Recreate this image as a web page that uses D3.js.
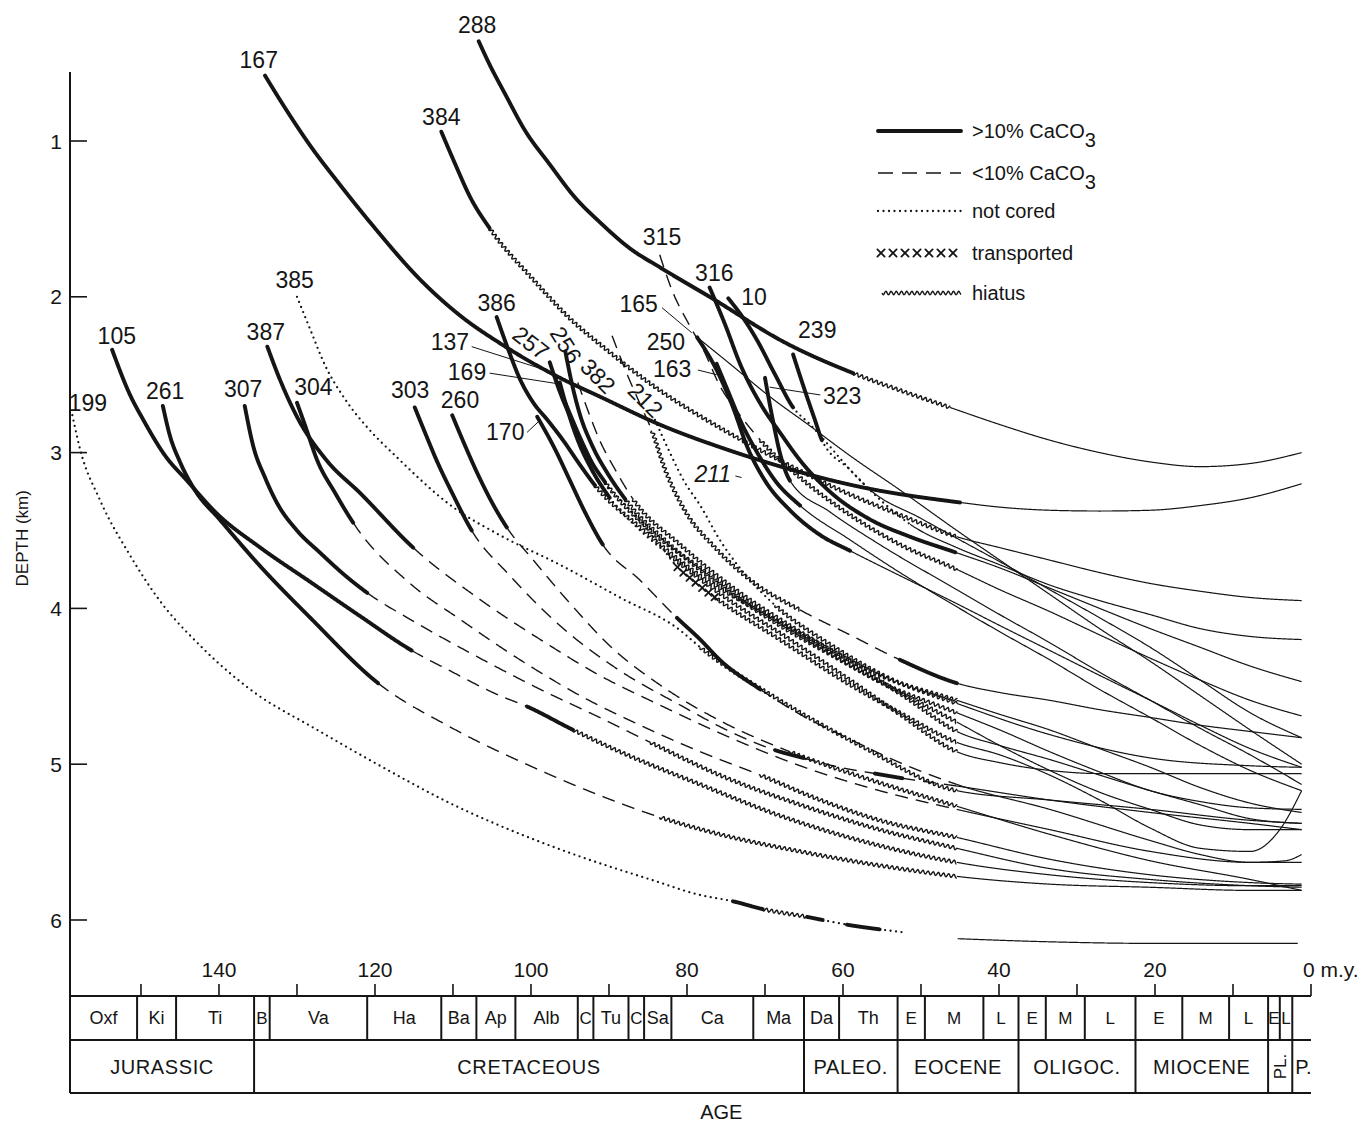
<!DOCTYPE html>
<html>
<head>
<meta charset="utf-8">
<title>Subsidence paths of DSDP sites</title>
<script src="https://cdn.jsdelivr.net/npm/d3@7/dist/d3.min.js"></script>
<style>
  html,body{margin:0;padding:0;background:#fff;}
  svg text{font-family:"Liberation Sans",Arial,sans-serif;fill:#151515;}
  .thick{fill:none;stroke:#151515;stroke-width:3.9;stroke-linecap:round;stroke-linejoin:round}
  .thin{fill:none;stroke:#151515;stroke-width:1.2}
  .dashed{fill:none;stroke:#151515;stroke-width:1.4;stroke-dasharray:13 8}
  .dotted{fill:none;stroke:#151515;stroke-width:2.3;stroke-dasharray:0 5.5;stroke-linecap:round}
  .hiatus{fill:none;stroke:#151515;stroke-width:1.4}
  .xmark{stroke:#151515;stroke-width:1.8;stroke-linecap:round}
  .frame{stroke:#151515;stroke-width:2;fill:none}
  .tick{stroke:#151515;stroke-width:1.6}
  .leader{stroke:#151515;stroke-width:1}
</style>
</head>
<body>
<svg id="chart" width="1365" height="1123" xmlns="http://www.w3.org/2000/svg"></svg>
<script>
// ---- Subsidence paths: [style, [[age m.y., depth km], ...]] ----
// Each segment continues from the last point of the previous one.
const s288 = [
  ["thick", [[106.7,0.36],[105.3,0.51],[103.3,0.70],[100.8,0.93],[97.6,1.15],[94.4,1.36],[91.2,1.52],[87.3,1.69],[83.5,1.81],[77.1,2.0],[67.2,2.30],[58.7,2.49]]],
  ["hiatus", [[52.7,2.60],[46.3,2.71]]],
  ["thin", [[39.9,2.82],[33.5,2.92],[27.1,3.0],[20.6,3.06],[14.2,3.09],[7.8,3.07],[1.2,3.0]]]
];
const s167 = [
  ["thick", [[134.1,0.58],[131.5,0.79],[128.3,1.03],[124.5,1.28],[120.0,1.56],[114.2,1.89],[109.1,2.12],[103.6,2.31],[96.3,2.52],[91.2,2.64],[83.5,2.82],[74.9,2.98],[70.6,3.05],[57.8,3.22],[45.0,3.32]]],
  ["thin", [[39.9,3.35],[33.5,3.37],[27.1,3.375],[20.6,3.37],[14.2,3.34],[7.8,3.29],[1.2,3.2]]]
];
const s384 = [
  ["thick", [[111.5,0.94],[109.7,1.15],[107.8,1.36],[105.3,1.56]]],
  ["hiatus", [[99.7,1.89],[95.0,2.14],[90.3,2.34],[83.5,2.60],[75.8,2.84],[68.1,3.05],[60.4,3.24],[52.7,3.40],[45.4,3.54]]],
  ["thin", [[39.9,3.61],[33.5,3.69],[27.1,3.77],[20.6,3.84],[14.2,3.89],[7.8,3.93],[1.2,3.95]]]
];
const s315 = [
  ["dashed", [[83.5,1.73],[81.9,1.96],[79.6,2.19],[77.9,2.34],[75.8,2.57],[73.2,2.76],[70.6,2.92]]],
  ["hiatus", [[65.5,3.16],[59.1,3.40],[52.7,3.59],[45.4,3.75]]],
  ["thin", [[39.9,3.88],[33.5,4.02],[27.1,4.17],[20.6,4.32],[14.2,4.46],[7.8,4.59],[1.2,4.69]]]
];
const s316 = [
  ["thick", [[77.1,1.94],[75.1,2.18],[73.2,2.43],[70.3,2.71],[68.1,2.87],[65.5,3.05],[61.7,3.25],[56.5,3.43],[51.4,3.54],[45.6,3.64]]],
  ["thin", [[39.9,3.74],[33.5,3.87],[27.1,4.0],[20.6,4.13],[14.2,4.25],[7.8,4.37],[1.2,4.47]]]
];
const s10 = [
  ["thick", [[74.7,2.01],[72.6,2.15],[71.0,2.28],[68.7,2.50],[66.4,2.71]]],
  ["dotted", [[64.2,2.82],[61.7,2.96],[59.1,3.11],[56.5,3.24]]],
  ["thin", [[50.1,3.42],[45.4,3.55],[39.9,3.70],[33.5,3.88],[27.1,4.06],[20.6,4.25],[14.2,4.46],[7.8,4.67],[1.2,4.83]]]
];
const s239 = [
  ["thick", [[66.4,2.37],[64.9,2.60],[63.6,2.79],[62.7,2.92]]],
  ["dotted", [[59.1,3.11],[55.3,3.30],[51.4,3.46]]],
  ["thin", [[45.4,3.61],[39.9,3.72],[33.5,3.85],[27.1,3.95],[20.6,4.04],[14.2,4.13],[7.8,4.18],[1.2,4.20]]]
];
const s165 = [
  ["thin", [[78.7,2.26],[74.5,2.43],[69.4,2.64],[64.2,2.83],[59.1,3.02],[52.7,3.24],[45.4,3.50],[39.9,3.69],[33.5,3.91],[27.1,4.13],[20.6,4.34],[14.2,4.56],[7.8,4.78],[1.2,5.0]]]
];
const s250 = [
  ["thick", [[78.7,2.26],[76.2,2.47],[74.1,2.71],[72.3,2.96],[70.0,3.18],[66.8,3.37],[62.9,3.53],[59.1,3.63]]],
  ["thin", [[52.7,3.79],[45.4,3.97],[39.9,4.11],[33.5,4.27],[27.1,4.43],[20.6,4.59],[14.2,4.75],[7.8,4.90],[1.2,5.02]]]
];
const s163 = [
  ["thick", [[76.2,2.43],[74.7,2.61],[73.2,2.79],[71.0,3.0],[68.7,3.18],[65.5,3.34]]],
  ["thin", [[59.1,3.56],[52.7,3.77],[45.4,3.99],[39.9,4.15],[33.5,4.33],[27.1,4.52],[20.6,4.70],[14.2,4.88],[7.8,5.04],[1.2,5.17]]]
];
const s323 = [
  ["thick", [[70.0,2.52],[69.5,2.66],[69.0,2.79],[68.1,3.0],[66.8,3.18]]],
  ["thin", [[61.7,3.38],[55.3,3.59],[45.4,3.88],[39.9,4.04],[33.5,4.22],[27.1,4.41],[20.6,4.59],[14.2,4.77],[7.8,4.94],[1.2,5.13]]]
];
const s386 = [
  ["thick", [[104.4,2.13],[102.9,2.34],[101.4,2.53],[99.7,2.68],[97.9,2.79],[95.9,2.92],[93.7,3.08],[91.8,3.21]]],
  ["hiatus", [[86.0,3.48],[78.3,3.79],[70.6,4.02],[62.9,4.23],[55.3,4.43],[45.4,4.59]]],
  ["thin", [[39.9,4.68],[33.5,4.78],[27.1,4.90],[20.6,5.02],[14.2,5.15],[7.8,5.25],[1.2,5.31]]]
];
const s257 = [
  ["thick", [[97.6,2.42],[96.3,2.61],[94.7,2.80],[92.7,3.02],[90.5,3.19]]],
  ["hiatus", [[84.7,3.50],[78.3,3.74],[70.6,4.01],[62.9,4.25],[55.3,4.47],[45.4,4.67]]],
  ["thin", [[39.9,4.78],[33.5,4.92],[27.1,5.05],[20.6,5.17],[14.2,5.24],[7.8,5.28],[1.2,5.29]]]
];
const s256 = [
  ["thick", [[95.6,2.35],[94.7,2.57],[93.7,2.76],[92.2,2.95],[90.1,3.14],[87.9,3.30]]],
  ["hiatus", [[82.2,3.59],[75.8,3.85],[68.1,4.11],[60.4,4.33],[52.7,4.54],[45.4,4.73]]],
  ["thin", [[39.9,4.88],[33.5,5.04],[27.1,5.18],[20.6,5.29],[14.2,5.39],[7.8,5.42],[1.2,5.42]]]
];
const s382 = [
  ["dashed", [[94.0,2.55],[92.7,2.73],[91.2,2.92],[89.2,3.11],[86.9,3.30]]],
  ["hiatus", [[80.9,3.59],[73.2,3.90],[65.5,4.15],[57.8,4.38],[51.4,4.59],[45.4,4.79]]],
  ["thin", [[39.9,4.88],[33.5,4.97],[27.1,5.07],[20.6,5.17],[14.2,5.26],[7.8,5.35],[1.2,5.38]]]
];
const s137 = [
  ["thin", [[96.9,2.50],[95.0,2.73],[93.1,2.95],[91.2,3.14]]],
  ["dotted", [[87.3,3.37],[83.5,3.59],[81.5,3.72]]],
  ["transported", [[79.0,3.83],[76.4,3.93]]],
  ["hiatus", [[68.1,4.20],[59.1,4.49],[52.7,4.67],[45.4,4.86]]],
  ["thin", [[39.9,4.94],[33.5,5.07],[27.1,5.23],[20.6,5.41],[14.2,5.54],[7.8,5.56],[4.0,5.42],[1.2,5.17]]]
];
const s169 = [
  ["thick", [[96.3,2.55],[95.3,2.73],[94.0,2.92],[92.2,3.11],[89.9,3.29]]],
  ["dotted", [[86.0,3.50],[82.2,3.66]]],
  ["hiatus", [[74.5,3.95],[66.8,4.20],[59.1,4.46],[52.7,4.68],[45.4,4.92]]],
  ["thin", [[39.9,4.99],[33.5,5.04],[27.1,5.06],[20.6,5.06],[14.2,5.06],[7.8,5.06],[1.2,5.06]]]
];
const s212 = [
  ["dashed", [[89.6,2.25],[87.9,2.47],[86.0,2.69],[84.5,2.86]]],
  ["hiatus", [[82.8,3.11],[80.3,3.37],[76.4,3.61],[71.3,3.84],[65.5,4.01]]],
  ["dashed", [[59.1,4.17],[52.7,4.33]]],
  ["thick", [[45.4,4.48]]],
  ["thin", [[39.9,4.54],[33.5,4.59],[27.1,4.65],[20.6,4.70],[14.2,4.75],[7.8,4.79],[1.2,4.83]]]
];
const s211 = [
  ["dotted", [[84.1,2.79],[82.2,3.0],[80.3,3.19],[78.3,3.34],[75.8,3.56],[71.9,3.82],[68.7,3.98]]],
  ["hiatus", [[61.7,4.23],[54.0,4.45],[45.4,4.61]]],
  ["thin", [[33.5,4.81],[20.6,4.96],[7.8,5.01],[1.2,5.02]]]
];
const s170 = [
  ["thick", [[99.2,2.77],[96.9,2.98],[95.0,3.18],[93.1,3.38],[90.8,3.59]]],
  ["dashed", [[86.0,3.82],[81.3,4.06]]],
  ["thick", [[78.3,4.20],[75.8,4.33],[70.6,4.52]]],
  ["dashed", [[65.5,4.68],[59.1,4.84],[52.7,4.99],[45.4,5.13]]],
  ["thin", [[33.5,5.29],[20.6,5.49],[14.2,5.58],[7.8,5.63],[3.3,5.62],[1.2,5.58]]]
];
const s385 = [
  ["dotted", [[130.0,2.0],[128.3,2.21],[126.4,2.44],[123.8,2.66],[120.6,2.86],[117.4,3.02],[110.0,3.35],[104.0,3.53],[96.3,3.72],[88.6,3.93],[80.9,4.14],[78.3,4.25]]],
  ["hiatus", [[68.1,4.59],[57.8,4.88],[45.4,5.17]]],
  ["thin", [[33.5,5.23],[20.6,5.29],[7.8,5.36],[1.2,5.38]]]
];
const s387 = [
  ["thick", [[133.8,2.32],[132.2,2.53],[130.0,2.77],[126.2,3.05],[121.9,3.26],[115.1,3.61]]],
  ["dashed", [[106.9,3.93],[98.8,4.20],[91.2,4.43],[83.5,4.62],[75.8,4.80],[65.5,5.01],[55.3,5.17],[45.4,5.29]]],
  ["thin", [[33.5,5.42],[20.6,5.56],[7.8,5.63],[1.2,5.63]]]
];
const s304 = [
  ["thick", [[130.0,2.68],[129.0,2.82],[127.4,3.05],[125.1,3.26],[122.8,3.45]]],
  ["dashed", [[115.5,3.84],[109.1,4.07],[101.4,4.33],[93.7,4.56],[86.0,4.75],[78.3,4.92],[70.6,5.07]]],
  ["hiatus", [[62.9,5.23],[55.3,5.36],[45.4,5.47]]],
  ["thin", [[33.5,5.61],[20.6,5.71],[7.8,5.76],[1.2,5.77]]]
];
const s303 = [
  ["thick", [[114.9,2.71],[113.6,2.87],[112.1,3.05],[110.0,3.27],[107.6,3.50]]],
  ["dashed", [[102.7,3.79],[96.3,4.11],[88.6,4.40],[80.9,4.62],[74.1,4.80],[68.7,4.91]]],
  ["thick", [[65.1,4.96]]],
  ["dashed", [[60.4,5.02],[55.9,5.06]]],
  ["thick", [[52.4,5.09]]],
  ["dashed", [[45.4,5.14]]],
  ["thin", [[33.5,5.23],[20.6,5.31],[7.8,5.38],[1.2,5.42]]]
];
const s260 = [
  ["thick", [[110.1,2.76],[108.5,2.95],[106.9,3.13],[105.0,3.32],[103.1,3.48]]],
  ["dashed", [[99.7,3.69],[94.6,3.99],[89.9,4.24],[83.5,4.49],[75.8,4.72],[66.8,4.92]]],
  ["hiatus", [[56.5,5.10],[45.4,5.27]]],
  ["thin", [[33.5,5.45],[20.6,5.62],[7.8,5.74],[1.2,5.81]]]
];
const s307 = [
  ["thick", [[136.7,2.70],[135.6,2.96],[134.1,3.16],[132.6,3.32],[130.0,3.50],[127.1,3.64],[123.8,3.79],[121.0,3.90]]],
  ["dashed", [[115.5,4.07],[106.9,4.31],[98.8,4.52],[91.2,4.70],[84.7,4.86]]],
  ["hiatus", [[75.8,5.07],[65.5,5.26],[55.3,5.42],[45.4,5.54]]],
  ["thin", [[33.5,5.67],[20.6,5.74],[7.8,5.78],[1.2,5.79]]]
];
const s261 = [
  ["thick", [[147.2,2.70],[146.3,2.89],[145.0,3.06],[143.1,3.24],[139.9,3.43],[134.7,3.73],[128.3,4.06],[119.6,4.48]]],
  ["dashed", [[110.4,4.76],[99.7,5.02],[91.2,5.20],[83.5,5.34]]],
  ["hiatus", [[75.8,5.45],[65.5,5.56],[55.3,5.65],[45.4,5.72]]],
  ["thin", [[33.5,5.77],[20.6,5.79],[7.8,5.81],[1.2,5.81]]]
];
const s105 = [
  ["thick", [[153.7,2.34],[151.4,2.63],[149.7,2.79],[146.9,3.02],[144.1,3.18],[140.3,3.39],[134.7,3.61],[128.3,3.83],[121.9,4.05],[115.3,4.27]]],
  ["dashed", [[110.4,4.40],[104.0,4.56],[100.5,4.63]]],
  ["thick", [[94.6,4.78]]],
  ["hiatus", [[88.6,4.92],[78.3,5.13],[68.1,5.33],[57.8,5.49],[45.4,5.63]]],
  ["thin", [[33.5,5.71],[20.6,5.76],[7.8,5.78],[1.2,5.78]]]
];
const s199 = [
  ["dotted", [[158.8,2.76],[157.8,2.98],[155.3,3.30],[151.4,3.66],[147.6,3.95],[142.4,4.24],[136.0,4.52],[127.4,4.78],[119.0,5.02],[110.4,5.25],[101.8,5.44],[93.3,5.60],[84.7,5.74],[78.3,5.84],[74.1,5.88]]],
  ["thick", [[70.3,5.93]]],
  ["hiatus", [[64.6,5.98]]],
  ["thick", [[62.6,6.0]]],
  ["dotted", [[59.5,6.03]]],
  ["thick", [[55.3,6.06]]],
  ["dotted", [[52.1,6.08]]]
];
const s199young = [
  ["thin", [[45.3,6.12],[33.5,6.14],[20.6,6.15],[7.8,6.15],[1.7,6.15]]]
];

const sitePaths = [s288,s167,s384,s315,s316,s10,s239,s165,s250,s163,s323,s386,s257,s256,s382,
                   s137,s169,s212,s211,s170,s385,s387,s304,s303,s260,s307,s261,s105,s199,s199young];

// ---- Site labels ----
const labelText  = ["288","167","384","315","316","10","239","165","250","163","323","386","137","169","257","256","382","212","211","170","385","387","304","303","260","307","261","105","199"];
const labelAge   = [106.9,134.9,111.5,83.2,76.5,71.4,63.3,86.2,82.7,81.9,60.1,104.4,110.4,108.2,100.0,95.5,91.4,85.3,76.7,103.3,130.3,134.0,127.9,115.5,109.1,136.9,146.9,153.1,156.8];
const labelDepth = [0.255,0.48,0.846,1.616,1.847,2.0,2.213,2.046,2.29,2.463,2.637,2.04,2.29,2.483,2.296,2.309,2.508,2.662,3.137,2.868,1.892,2.226,2.579,2.598,2.662,2.592,2.605,2.252,2.682];
const labelTilt  = [0,0,0,0,0,0,0,0,0,0,0,0,0,0,38,58,45,45,0,0,0,0,0,0,0,0,0,0,0];

// leader lines joining labels to their curves
const leaderFrom = [[83.2,2.07],[78.6,2.47],[62.9,2.63],[107.6,2.32],[105.3,2.49],[100.5,2.87],[73.8,3.15]];
const leaderTo   = [[79.4,2.23],[76.2,2.50],[69.4,2.58],[96.9,2.49],[96.3,2.56],[98.8,2.79],[73.0,3.16]];

// ---- Axes ----
const depthTicks = [1,2,3,4,5,6];
const ageTicks = [150,140,130,120,110,100,90,80,70,60,50,40,30,20,10,0];
const ageTickLabels = [140,120,100,80,60,40,20];

// ---- Time scale ----
const stageNames  = ["Oxf","Ki","Ti","B","Va","Ha","Ba","Ap","Alb","C","Tu","C","Sa","Ca","Ma","Da","Th","E","M","L","E","M","L","E","M","L","E","L",""];
const stageBounds = [159.1,150.5,145.5,135.5,133.5,121,111.5,107,102,94,92,87.5,85.5,82,71.5,65,60.5,53,49.5,42,37.5,34,29,22.5,16.5,10.5,5.5,4.0,2.4,0];
const periodNames  = ["JURASSIC","CRETACEOUS","PALEO.","EOCENE","OLIGOC.","MIOCENE","PL.","P."];
const periodBounds = [159.1,135.5,65,53,37.5,22.5,5.5,2.4,0];

// ---- Legend ----
const legendStyles = ["thick","dashed","dotted","transported","hiatus"];
const legendLabels = [">10% CaCO|3","<10% CaCO|3","not cored","transported","hiatus"];

// ================= drawing =================
const svg = d3.select("#chart");
svg.append("rect").attr("width",1365).attr("height",1123).attr("fill","#fff");

const x = d3.scaleLinear().domain([159.1, 0]).range([70, 1311]);
const y = d3.scaleLinear().domain([1, 6]).range([141, 920]);

const plotTop = 72, stageTop = 996, stageMid = 1040, stageBottom = 1093;
const x0 = x(stageBounds[0]), x1 = x(0);

// dense sampling of a monotone curve through pixel points, remembering where each knot lands
function densify(pts){
  const out = []; const knots = []; let cx = 0, cy = 0;
  const ctx = {
    moveTo(px,py){ out.push([px,py]); knots.push(out.length-1); cx=px; cy=py; },
    lineTo(px,py){
      const n = Math.max(1, Math.ceil(Math.hypot(px-cx,py-cy)/0.5));
      for(let i=1;i<=n;i++){ const t=i/n; out.push([cx+(px-cx)*t, cy+(py-cy)*t]); }
      knots.push(out.length-1); cx=px; cy=py;
    },
    bezierCurveTo(ax,ay,bx,by,px,py){
      const approx = Math.hypot(ax-cx,ay-cy)+Math.hypot(bx-ax,by-ay)+Math.hypot(px-bx,py-by);
      const n = Math.max(2, Math.ceil(approx/0.5));
      for(let i=1;i<=n;i++){
        const t=i/n, u=1-t;
        out.push([u*u*u*cx+3*u*u*t*ax+3*u*t*t*bx+t*t*t*px,
                  u*u*u*cy+3*u*u*t*ay+3*u*t*t*by+t*t*t*py]);
      }
      knots.push(out.length-1); cx=px; cy=py;
    },
    closePath(){}
  };
  d3.line().curve(d3.curveMonotoneX).context(ctx)(pts);
  let s = 0; out[0][2] = 0;
  for(let i=1;i<out.length;i++){ s += Math.hypot(out[i][0]-out[i-1][0], out[i][1]-out[i-1][1]); out[i][2] = s; }
  return {samples: out, knots};
}

// wavy line used for hiatus segments
function wavy(seg, amp, wl){
  const s0 = seg[0][2];
  return seg.map((p,i) => {
    const a = seg[Math.max(0,i-2)], b = seg[Math.min(seg.length-1,i+2)];
    let tx = b[0]-a[0], ty = b[1]-a[1]; const n = Math.hypot(tx,ty) || 1; tx/=n; ty/=n;
    const o = amp*Math.sin(2*Math.PI*(p[2]-s0)/wl);
    return [p[0]-ty*o, p[1]+tx*o];
  });
}

function xMarks(g, seg, step, r){
  const s0 = seg[0][2], L = seg[seg.length-1][2]-s0;
  let target = 3, j = 0;
  while(target <= L){
    while(j < seg.length-1 && seg[j][2]-s0 < target) j++;
    const [px,py] = seg[j];
    g.append("line").attr("class","xmark").attr("x1",px-r).attr("y1",py-r).attr("x2",px+r).attr("y2",py+r);
    g.append("line").attr("class","xmark").attr("x1",px-r).attr("y1",py+r).attr("x2",px+r).attr("y2",py-r);
    target += step;
  }
}

const lineGen = d3.line();
function drawSeg(g, style, seg){
  if(style === "hiatus"){
    g.append("path").attr("class","hiatus").attr("d", lineGen(wavy(seg,1.7,5.2)));
  } else if(style === "transported"){
    xMarks(g, seg, 8, 3.2);
  } else {
    g.append("path").attr("class",style).attr("d", lineGen(seg.map(p=>[p[0],p[1]])));
  }
}

const styleOrder = ["thin","dotted","dashed","hiatus","transported","thick"];
const gCurves = svg.append("g");
const layers = {};
styleOrder.forEach(s => { layers[s] = gCurves.append("g"); });

sitePaths.forEach(site => {
  const pts = []; const parts = [];
  site.forEach(([style, p]) => {
    const start = pts.length ? pts.length-1 : 0;
    p.forEach(q => pts.push([x(q[0]), y(q[1])]));
    parts.push([style, start, pts.length-1]);
  });
  const {samples, knots} = densify(pts);
  parts.forEach(([style,a,b]) => {
    const seg = samples.slice(knots[a], knots[b]+1);
    if(seg.length > 1) drawSeg(layers[style], style, seg);
  });
});

// leaders
const gLead = svg.append("g");
leaderFrom.forEach((f,i) => {
  const t = leaderTo[i];
  gLead.append("line").attr("class","leader")
    .attr("x1",x(f[0])).attr("y1",y(f[1])).attr("x2",x(t[0])).attr("y2",y(t[1]));
});

// site labels
const gLab = svg.append("g");
labelText.forEach((t,i) => {
  const px = x(labelAge[i]), py = y(labelDepth[i]);
  gLab.append("text").attr("x",px).attr("y",py).attr("dy","0.36em")
    .attr("text-anchor","middle").attr("font-size",23)
    .attr("font-style", t === "211" ? "italic" : "normal")
    .attr("transform", labelTilt[i] ? `rotate(${labelTilt[i]},${px},${py})` : null)
    .text(t);
});

// ---- depth axis ----
const gAx = svg.append("g");
gAx.append("line").attr("class","frame").attr("stroke-width",2.6)
  .attr("x1",x0).attr("x2",x0).attr("y1",plotTop).attr("y2",stageBottom);
depthTicks.forEach(d => {
  gAx.append("line").attr("class","tick").attr("x1",x0).attr("x2",x0+17).attr("y1",y(d)).attr("y2",y(d));
  gAx.append("text").attr("x",x0-8).attr("y",y(d)).attr("dy","0.36em").attr("text-anchor","end")
    .attr("font-size",21).text(d);
});
gAx.append("text").attr("transform",`translate(22,${y(3.55)}) rotate(-90)`)
  .attr("text-anchor","middle").attr("dy","0.36em").attr("font-size",17).text("DEPTH (km)");

// ---- age axis ----
ageTicks.forEach(a => {
  gAx.append("line").attr("class","tick").attr("x1",x(a)).attr("x2",x(a)).attr("y1",stageTop-12).attr("y2",stageTop);
});
ageTickLabels.forEach(a => {
  gAx.append("text").attr("x",x(a)).attr("y",stageTop-19).attr("text-anchor","middle").attr("font-size",21).text(a);
});
gAx.append("text").attr("x",x(0)-8).attr("y",stageTop-19).attr("font-size",21).text("0 m.y.");

// ---- time-scale boxes ----
[stageTop, stageMid, stageBottom].forEach(yy => {
  gAx.append("line").attr("class","frame").attr("x1",x0).attr("x2",x1).attr("y1",yy).attr("y2",yy);
});
stageBounds.slice(1,-1).forEach(a => {
  gAx.append("line").attr("class","frame").attr("stroke-width",1.6)
    .attr("x1",x(a)).attr("x2",x(a)).attr("y1",stageTop).attr("y2",stageMid);
});
stageNames.forEach((n,i) => {
  if(!n) return;
  const cxp = (x(stageBounds[i]) + x(stageBounds[i+1]))/2;
  gAx.append("text").attr("x",cxp).attr("y",(stageTop+stageMid)/2).attr("dy","0.36em")
    .attr("text-anchor","middle").attr("font-size", n.length > 1 ? 18 : 17).text(n);
});
periodBounds.slice(1,-1).forEach(a => {
  gAx.append("line").attr("class","frame").attr("stroke-width",1.6)
    .attr("x1",x(a)).attr("x2",x(a)).attr("y1",stageMid).attr("y2",stageBottom);
});
periodNames.forEach((n,i) => {
  const xa = x(periodBounds[i]), xb = x(periodBounds[i+1]);
  const cy = (stageMid+stageBottom)/2;
  if(n === "PL."){
    const cx = (xa+xb)/2;
    gAx.append("text").attr("transform",`translate(${cx},${cy}) rotate(-90)`).attr("dy","0.36em")
      .attr("text-anchor","middle").attr("font-size",17).text(n);
  } else if(n === "P."){
    gAx.append("text").attr("x",xa+3).attr("y",cy).attr("dy","0.36em").attr("font-size",20).text(n);
  } else {
    gAx.append("text").attr("x",(xa+xb)/2).attr("y",cy).attr("dy","0.36em")
      .attr("text-anchor","middle").attr("font-size",20).attr("letter-spacing",0.6).text(n);
  }
});
gAx.append("text").attr("x",x(75.6)).attr("y",1119).attr("text-anchor","middle").attr("font-size",20).text("AGE");

// ---- legend ----
const gLeg = svg.append("g");
const legX0 = 878, legX1 = 961, legTextX = 972;
const legY = [131,173,211,253,293];
legendStyles.forEach((st,i) => {
  const yy = legY[i];
  const seg = d3.range(0, legX1-legX0+0.5, 0.5).map(d => [legX0+d, yy, d]);
  if(st === "dashed"){
    gLeg.append("path").attr("class","dashed").attr("style","stroke-dasharray:15 9").attr("d", lineGen(seg.map(p=>[p[0],p[1]])));
  } else if(st === "transported"){
    xMarks(gLeg, seg, 12, 3.6);
  } else if(st === "hiatus"){
    drawSeg(gLeg, st, seg.filter(p => p[0] >= legX0+4));
  } else {
    drawSeg(gLeg, st, seg);
  }
  const parts = legendLabels[i].split("|");
  const t = gLeg.append("text").attr("x",legTextX).attr("y",yy).attr("dy","0.36em").attr("font-size",20);
  t.append("tspan").text(parts[0]);
  if(parts[1]) t.append("tspan").attr("dy","0.45em").text(parts[1]);
});
</script>
</body>
</html>
